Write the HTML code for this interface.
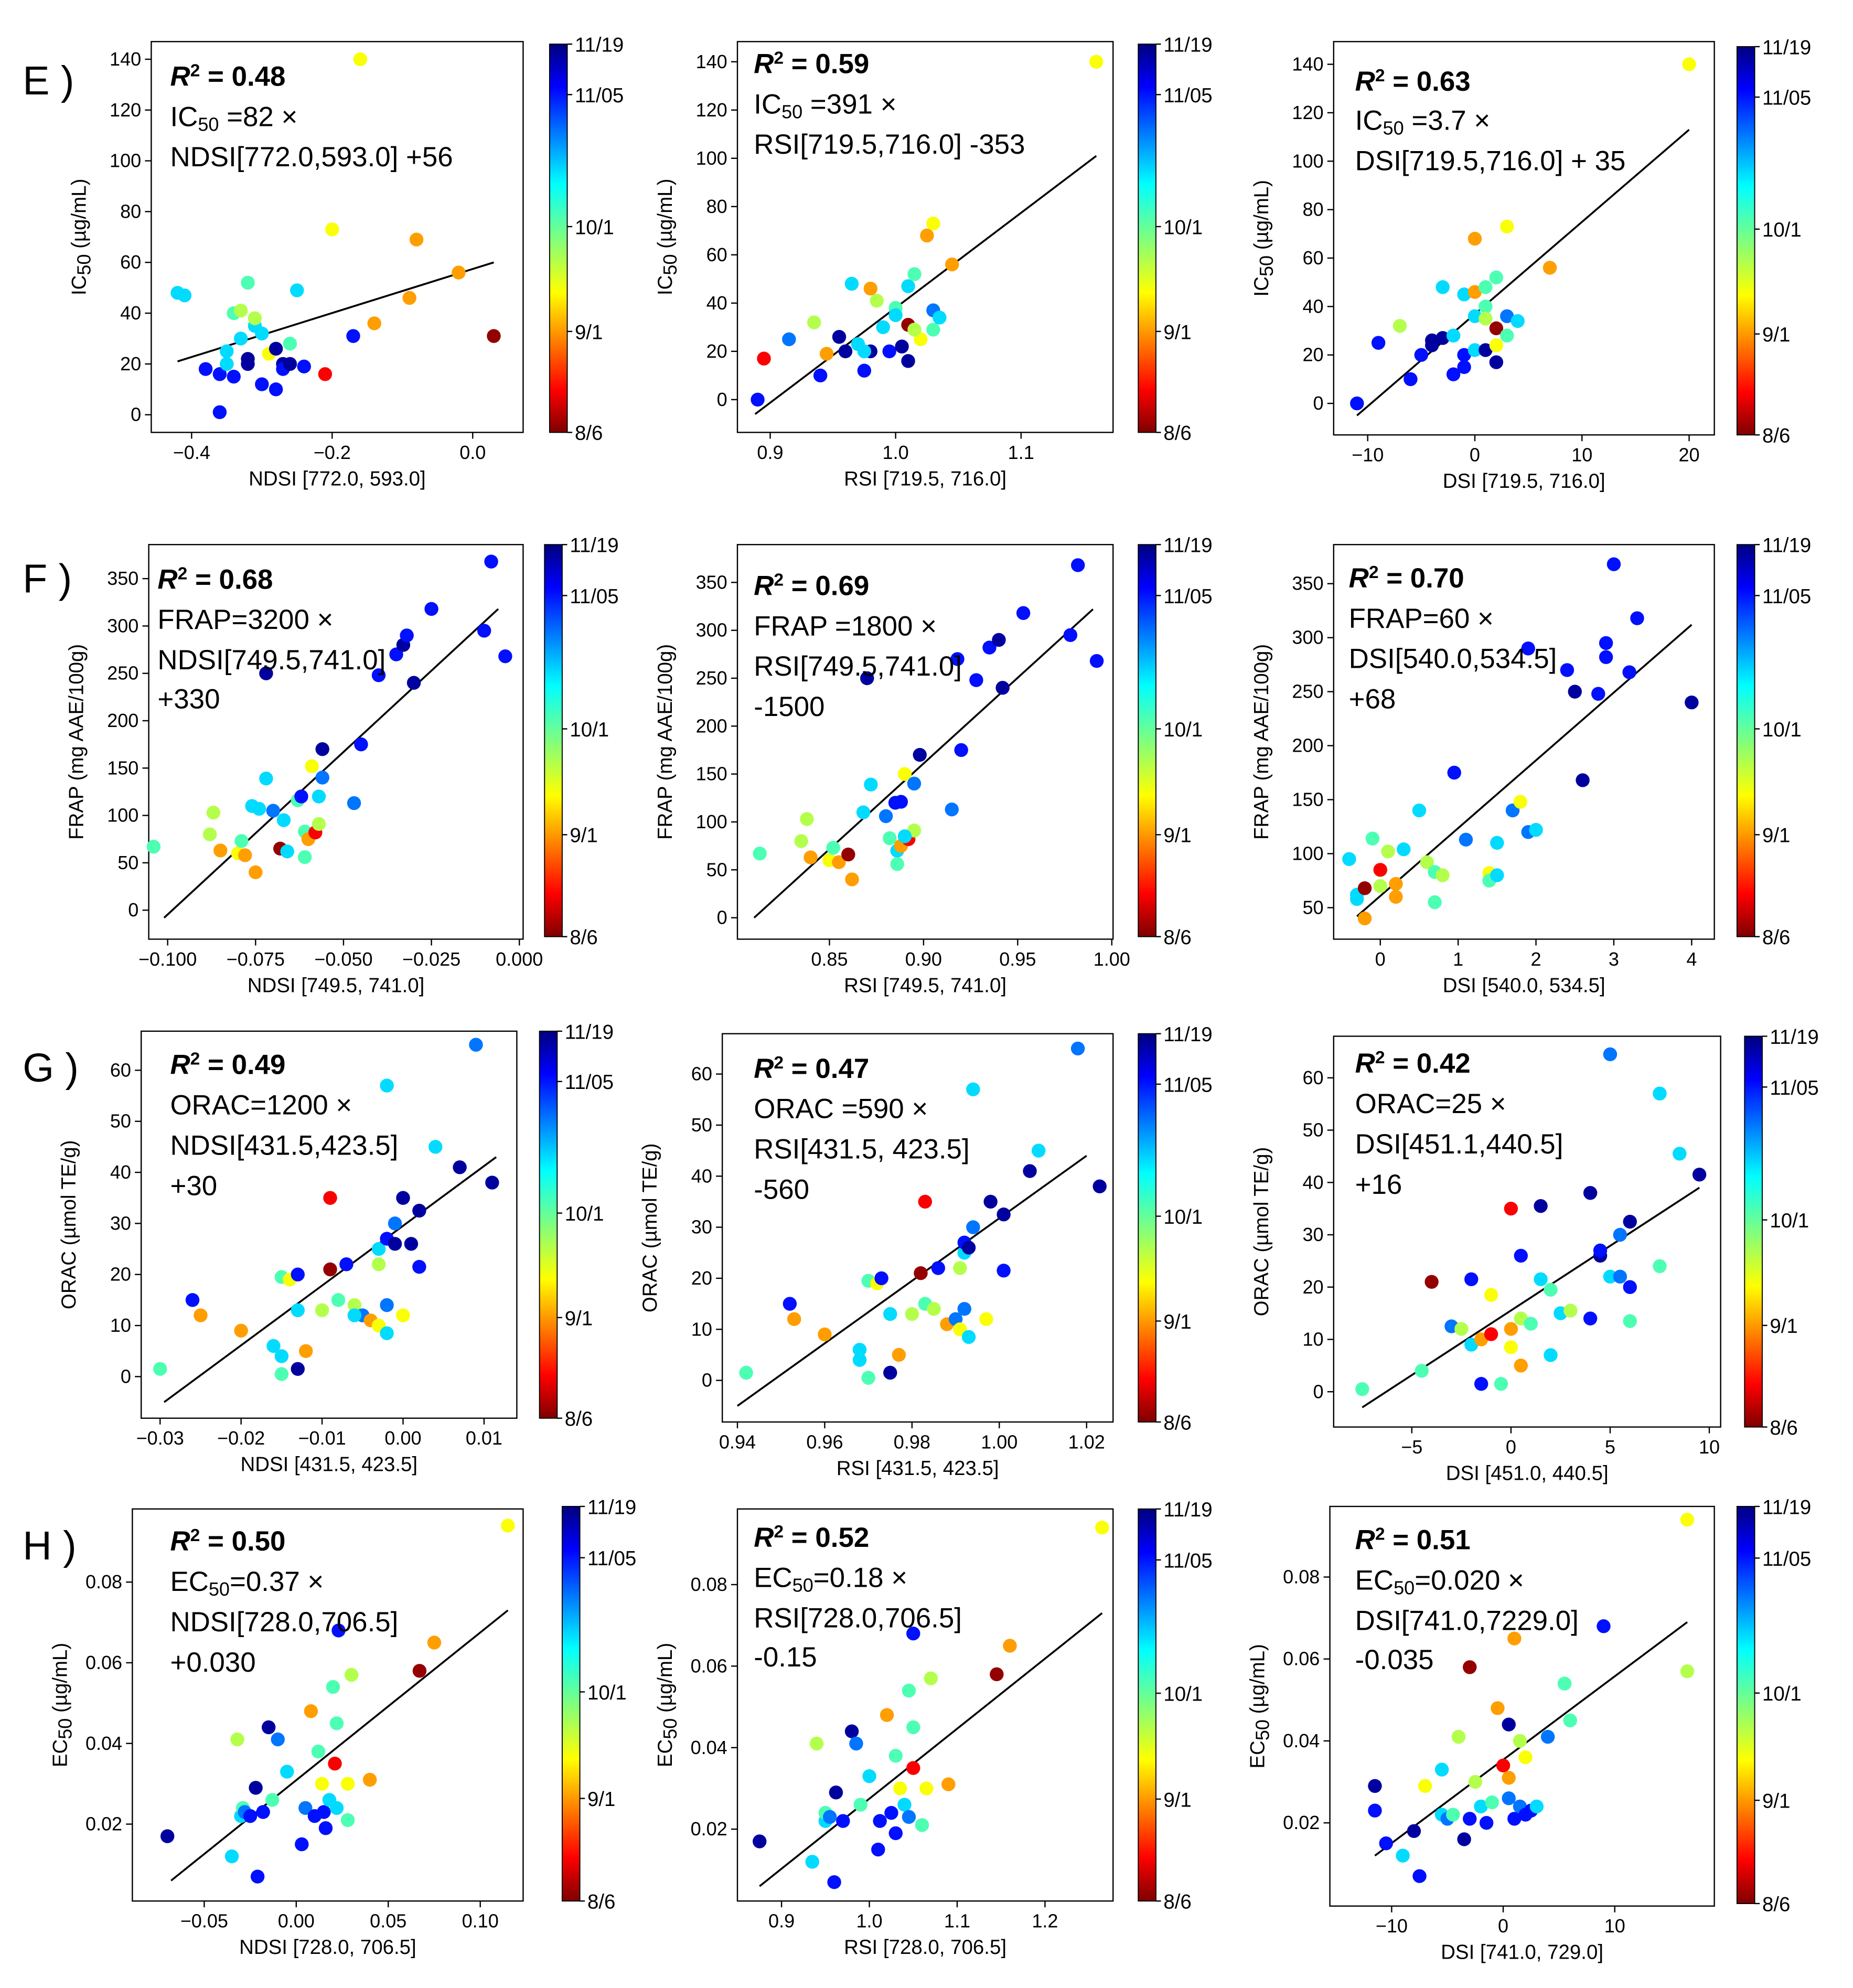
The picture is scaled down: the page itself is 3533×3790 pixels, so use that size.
<!DOCTYPE html>
<html><head><meta charset="utf-8"><style>
html,body{margin:0;padding:0;background:#fff}
svg{display:block;font-family:"Liberation Sans",sans-serif}
</style></head><body>
<svg id="fig" width="3533" height="3790" viewBox="0 0 1470 1577" preserveAspectRatio="none" xmlns="http://www.w3.org/2000/svg">
<defs><linearGradient id="jet" x1="0" y1="0" x2="0" y2="1">
<stop offset="0" stop-color="#00007f"/><stop offset="0.11" stop-color="#0000ff"/><stop offset="0.36" stop-color="#00ffff"/><stop offset="0.5" stop-color="#7fff7f"/><stop offset="0.64" stop-color="#ffff00"/><stop offset="0.89" stop-color="#ff0000"/><stop offset="1" stop-color="#7f0000"/></linearGradient></defs>
</svg>
<script>
const colorCodes={dr:0.02,r:0.12,o:0.28,y:0.38,yg:0.45,g:0.55,c:0.66,lb:0.76,b:0.86,db:0.97};
const cbarTicks=["11/19","11/05","10/1","9/1","8/6"];
const cbarFrac=[0,0.13,0.47,0.74,1];

const E1_pts=[[-0.42,48,'c'],[-0.41,47,'c'],[-0.38,18,'b'],[-0.36,16,'b'],[-0.36,1,'b'],[-0.35,20,'c'],[-0.35,25,'c'],[-0.34,40,'g'],[-0.33,41,'yg'],[-0.32,52,'g'],[-0.33,30,'c'],[-0.34,15,'b'],[-0.32,22,'db'],[-0.31,35,'c'],[-0.31,38,'yg'],[-0.30,32,'c'],[-0.30,12,'b'],[-0.29,24,'y'],[-0.28,26,'db'],[-0.27,20,'db'],[-0.27,18,'b'],[-0.28,10,'b'],[-0.26,28,'g'],[-0.25,49,'c'],[-0.24,19,'b'],[-0.20,73,'y'],[-0.21,16,'r'],[-0.17,31,'b'],[-0.16,140,'y'],[-0.14,36,'o'],[-0.08,69,'o'],[-0.09,46,'o'],[-0.02,56,'o'],[0.03,31,'dr'],[-0.26,20,'db'],[-0.32,20,'db']];
const E2_pts=[[0.89,0,'b'],[0.895,17,'r'],[0.915,25,'lb'],[0.94,10,'b'],[0.935,32,'yg'],[0.945,19,'o'],[0.955,26,'db'],[0.96,20,'db'],[0.965,48,'c'],[0.97,23,'c'],[0.975,12,'b'],[0.98,46,'o'],[0.985,41,'yg'],[0.98,20,'db'],[0.99,30,'c'],[0.995,20,'b'],[1.0,38,'g'],[1.005,22,'db'],[1.01,31,'dr'],[1.01,16,'db'],[1.01,47,'c'],[1.015,52,'g'],[1.02,25,'y'],[1.025,68,'o'],[1.03,73,'y'],[1.03,29,'g'],[1.03,37,'lb'],[1.035,34,'c'],[1.045,56,'o'],[1.16,140,'y'],[0.975,20,'c'],[1.0,35,'c'],[1.015,29,'yg']];
const E3_pts=[[-11,0,'b'],[-9,25,'b'],[-7,32,'yg'],[-6,10,'b'],[-5,20,'b'],[-4,24,'db'],[-4,26,'db'],[-3,27,'db'],[-3,48,'c'],[-2,12,'b'],[-1,20,'b'],[-1,15,'b'],[-1,45,'c'],[0,22,'c'],[0,36,'c'],[0,68,'o'],[0,46,'o'],[1,40,'g'],[1,22,'db'],[1,48,'g'],[2,52,'g'],[2,17,'db'],[2,31,'dr'],[2,24,'y'],[3,73,'y'],[3,28,'g'],[3,36,'lb'],[4,34,'c'],[7,56,'o'],[20,140,'y'],[1,35,'yg'],[-2,28,'c']];
const F1_pts=[[-0.104,67,'g'],[-0.088,80,'yg'],[-0.087,103,'yg'],[-0.085,63,'o'],[-0.080,60,'y'],[-0.079,73,'g'],[-0.078,58,'o'],[-0.075,40,'o'],[-0.076,110,'c'],[-0.074,107,'c'],[-0.072,250,'db'],[-0.072,139,'c'],[-0.07,105,'lb'],[-0.068,65,'dr'],[-0.067,95,'c'],[-0.066,62,'c'],[-0.063,116,'g'],[-0.062,120,'b'],[-0.061,83,'g'],[-0.061,56,'g'],[-0.060,75,'o'],[-0.059,152,'y'],[-0.058,82,'r'],[-0.057,91,'yg'],[-0.056,140,'lb'],[-0.056,170,'db'],[-0.047,113,'lb'],[-0.045,175,'b'],[-0.040,248,'b'],[-0.035,270,'b'],[-0.033,280,'db'],[-0.032,290,'b'],[-0.030,240,'db'],[-0.025,318,'b'],[-0.010,295,'b'],[-0.008,368,'b'],[-0.004,268,'b'],[-0.057,120,'c']];
const F2_pts=[[0.813,67,'g'],[0.835,80,'yg'],[0.838,103,'yg'],[0.840,63,'o'],[0.850,60,'y'],[0.852,73,'g'],[0.855,58,'o'],[0.862,40,'o'],[0.860,66,'dr'],[0.868,110,'c'],[0.870,250,'db'],[0.872,139,'c'],[0.880,106,'lb'],[0.882,83,'g'],[0.885,120,'b'],[0.886,70,'c'],[0.886,56,'g'],[0.888,75,'o'],[0.888,121,'b'],[0.890,150,'y'],[0.892,82,'r'],[0.895,91,'yg'],[0.898,170,'db'],[0.895,140,'lb'],[0.915,113,'lb'],[0.918,270,'b'],[0.920,175,'b'],[0.928,248,'b'],[0.935,282,'b'],[0.940,290,'db'],[0.942,240,'db'],[0.953,318,'b'],[0.978,295,'b'],[0.982,368,'b'],[0.992,268,'b'],[0.89,85,'c']];
const F3_pts=[[-0.4,95,'c'],[-0.3,62,'c'],[-0.3,58,'c'],[-0.2,68,'dr'],[-0.2,40,'o'],[-0.1,114,'g'],[0,85,'r'],[0,70,'yg'],[0.1,102,'yg'],[0.2,72,'o'],[0.2,60,'o'],[0.3,104,'c'],[0.5,140,'c'],[0.6,92,'yg'],[0.7,83,'g'],[0.7,55,'g'],[0.8,80,'yg'],[0.95,175,'b'],[1.1,113,'lb'],[1.4,82,'y'],[1.4,75,'g'],[1.5,80,'c'],[1.5,110,'c'],[1.7,140,'lb'],[1.8,148,'y'],[1.9,120,'lb'],[1.9,290,'b'],[2.0,122,'c'],[2.4,270,'b'],[2.5,250,'db'],[2.6,168,'db'],[2.8,248,'b'],[2.9,282,'b'],[2.9,295,'b'],[3.0,368,'b'],[3.2,268,'b'],[3.3,318,'b'],[4.0,240,'db']];
const G1_pts=[[-0.03,1.5,'g'],[-0.026,15,'b'],[-0.025,12,'o'],[-0.020,9,'o'],[-0.016,6,'c'],[-0.015,4,'c'],[-0.015,0.5,'g'],[-0.015,19.5,'g'],[-0.014,19,'y'],[-0.013,20,'b'],[-0.013,13,'c'],[-0.013,1.5,'db'],[-0.012,5,'o'],[-0.010,13,'yg'],[-0.009,21,'dr'],[-0.009,35,'r'],[-0.008,15,'g'],[-0.007,22,'b'],[-0.006,14,'yg'],[-0.005,12,'lb'],[-0.006,12,'c'],[-0.004,11,'o'],[-0.003,10,'y'],[-0.003,22,'yg'],[-0.003,25,'c'],[-0.002,14,'lb'],[-0.002,8.5,'c'],[-0.002,27,'b'],[-0.001,26,'db'],[-0.001,30,'lb'],[-0.002,57,'c'],[0.000,12,'y'],[0.000,35,'db'],[0.001,26,'db'],[0.002,32.5,'db'],[0.002,21.5,'b'],[0.004,45,'c'],[0.007,41,'db'],[0.009,65,'lb'],[0.011,38,'db']];
const G2_pts=[[0.942,1.5,'g'],[0.952,15,'b'],[0.953,12,'o'],[0.96,9,'o'],[0.968,6,'c'],[0.968,4,'c'],[0.970,0.5,'g'],[0.970,19.5,'g'],[0.972,19,'y'],[0.973,20,'b'],[0.975,13,'c'],[0.975,1.5,'db'],[0.977,5,'o'],[0.980,13,'yg'],[0.982,21,'dr'],[0.983,35,'r'],[0.983,15,'g'],[0.986,22,'b'],[0.985,14,'yg'],[0.988,11,'o'],[0.99,12,'lb'],[0.991,10,'y'],[0.991,22,'yg'],[0.992,25,'c'],[0.992,14,'lb'],[0.993,8.5,'c'],[0.992,27,'b'],[0.993,26,'db'],[0.994,30,'lb'],[0.994,57,'c'],[0.997,12,'y'],[0.998,35,'db'],[1.001,21.5,'b'],[1.001,32.5,'db'],[1.009,45,'c'],[1.007,41,'db'],[1.018,65,'lb'],[1.023,38,'db']];
const G3_pts=[[-7.5,0.5,'g'],[-4.5,4,'g'],[-4,21,'dr'],[-3,12.5,'lb'],[-2.5,12,'yg'],[-2,21.5,'b'],[-2,9,'c'],[-1.5,1.5,'b'],[-1.5,10,'o'],[-1,11,'r'],[-1,18.5,'y'],[-0.5,1.5,'g'],[0,12,'o'],[0,8.5,'y'],[0,35,'r'],[0.5,26,'b'],[0.5,14,'yg'],[0.5,5,'o'],[1,13,'g'],[1.5,35.5,'db'],[1.5,21.5,'c'],[2,7,'c'],[2,19.5,'g'],[2.5,15,'c'],[3,15.5,'yg'],[4,14,'b'],[4,38,'db'],[4.5,26,'db'],[4.5,27,'b'],[5,64.5,'lb'],[5,22,'c'],[5.5,30,'lb'],[5.5,22,'lb'],[6,13.5,'g'],[6,20,'b'],[6,32.5,'db'],[7.5,57,'c'],[7.5,24,'g'],[8.5,45.5,'c'],[9.5,41.5,'db']];
const H1_pts=[[-0.07,0.017,'db'],[-0.035,0.012,'c'],[-0.032,0.041,'yg'],[-0.03,0.022,'c'],[-0.029,0.024,'g'],[-0.028,0.023,'lb'],[-0.025,0.022,'b'],[-0.022,0.029,'db'],[-0.021,0.007,'b'],[-0.018,0.023,'b'],[-0.015,0.044,'db'],[-0.013,0.026,'g'],[-0.010,0.041,'lb'],[-0.005,0.033,'c'],[0.003,0.015,'b'],[0.005,0.024,'lb'],[0.008,0.048,'o'],[0.010,0.022,'b'],[0.012,0.038,'g'],[0.014,0.030,'y'],[0.015,0.023,'b'],[0.016,0.019,'b'],[0.018,0.026,'c'],[0.02,0.054,'g'],[0.021,0.035,'r'],[0.022,0.045,'g'],[0.022,0.024,'c'],[0.028,0.021,'g'],[0.028,0.030,'y'],[0.030,0.057,'yg'],[0.040,0.031,'o'],[0.023,0.068,'b'],[0.067,0.058,'dr'],[0.075,0.065,'o'],[0.115,0.094,'y']];
const H2_pts=[[0.875,0.017,'db'],[0.935,0.012,'c'],[0.94,0.041,'yg'],[0.95,0.022,'c'],[0.95,0.024,'g'],[0.955,0.023,'lb'],[0.96,0.007,'b'],[0.962,0.029,'db'],[0.97,0.022,'b'],[0.98,0.044,'db'],[0.985,0.041,'lb'],[0.99,0.026,'g'],[1.0,0.033,'c'],[1.01,0.015,'b'],[1.012,0.022,'b'],[1.02,0.048,'o'],[1.025,0.024,'b'],[1.03,0.019,'b'],[1.03,0.038,'g'],[1.035,0.030,'y'],[1.04,0.026,'c'],[1.045,0.023,'lb'],[1.045,0.054,'g'],[1.05,0.035,'r'],[1.05,0.045,'g'],[1.05,0.068,'b'],[1.06,0.021,'g'],[1.065,0.030,'y'],[1.07,0.057,'yg'],[1.09,0.031,'o'],[1.145,0.058,'dr'],[1.16,0.065,'o'],[1.265,0.094,'y']];
const H3_pts=[[-11.5,0.029,'db'],[-11.5,0.023,'b'],[-10.5,0.015,'b'],[-9,0.012,'c'],[-8,0.018,'db'],[-7.5,0.007,'b'],[-7,0.029,'y'],[-5.5,0.022,'c'],[-5.5,0.033,'c'],[-5,0.021,'lb'],[-4.5,0.022,'g'],[-4,0.041,'yg'],[-3.5,0.016,'db'],[-3,0.058,'dr'],[-3,0.021,'b'],[-2.5,0.030,'yg'],[-2,0.024,'c'],[-1.5,0.020,'b'],[-1,0.025,'g'],[-0.5,0.048,'o'],[0,0.034,'r'],[0.5,0.044,'db'],[0.5,0.031,'o'],[0.5,0.026,'lb'],[1,0.065,'o'],[1,0.021,'b'],[1.5,0.024,'lb'],[1.5,0.040,'yg'],[2,0.036,'y'],[2,0.022,'b'],[2.5,0.023,'b'],[3,0.024,'c'],[4,0.041,'lb'],[5.5,0.054,'g'],[6,0.045,'g'],[9,0.068,'b'],[16.5,0.057,'yg'],[16.5,0.094,'y']];

const E1_fit=[[-0.42,21],[0.03,60]];
const E2_fit=[[0.888,-6],[1.16,101]];
const E3_fit=[[-11,-5],[20,113]];
const F1_fit=[[-0.101,-8],[-0.006,318]];
const F2_fit=[[0.81,0],[0.99,322]];
const F3_fit=[[-0.3,42],[4.0,312]];
const G1_fit=[[-0.0295,-5],[0.0115,43]];
const G2_fit=[[0.94,-5],[1.02,44]];
const G3_fit=[[-7.5,-3],[9.5,39]];
const H1_fit=[[-0.068,0.006],[0.115,0.073]];
const H2_fit=[[0.875,0.006],[1.265,0.073]];
const H3_fit=[[-11.5,0.012],[16.5,0.069]];

const yTicksE=[0,20,40,60,80,100,120,140];
const yTicksF=[0,50,100,150,200,250,300,350];
const yTicksF3=[50,100,150,200,250,300,350];
const yTicksG=[0,10,20,30,40,50,60];
const yTicksH=[0.02,0.04,0.06,0.08];

const sub='<tspan baseline-shift="-25%" font-size="15">50</tspan>';
const r2=v=>'<tspan font-weight="bold" font-style="italic">R</tspan><tspan font-weight="bold" baseline-shift="super" font-size="14">2</tspan><tspan font-weight="bold"> = '+v+'</tspan>';

const panels=[
{id:'e1',pts:E1_pts,fit:E1_fit,box:[120,33,415,343],xa:[-0.4,152,0.0,375],ya:[0,329,140,47],xt:[-0.4,-0.2,0.0],xl:['−0.4','−0.2','0.0'],yt:yTicksE,yf:0,xlab:'NDSI [772.0, 593.0]',ylab:'IC'+sub+' (µg/mL)',cb:[436,35,343],tx:135,ty:[68,100,132],ann:[r2('0.48'),'IC'+sub+' =82 ×','NDSI[772.0,593.0] +56']},
{id:'e2',pts:E2_pts,fit:E2_fit,box:[585,33,883,343],xa:[0.9,611,1.1,810],ya:[0,317,140,49],xt:[0.9,1.0,1.1],xl:['0.9','1.0','1.1'],yt:yTicksE,yf:0,xlab:'RSI [719.5, 716.0]',ylab:'IC'+sub+' (µg/mL)',cb:[903,35,343],tx:598,ty:[58,90,122],ann:[r2('0.59'),'IC'+sub+' =391 ×','RSI[719.5,716.0] -353']},
{id:'e3',pts:E3_pts,fit:E3_fit,box:[1058,33,1360,345],xa:[-10,1085,20,1340],ya:[0,320,140,51],xt:[-10,0,10,20],xl:['−10','0','10','20'],yt:yTicksE,yf:0,xlab:'DSI [719.5, 716.0]',ylab:'IC'+sub+' (µg/mL)',cb:[1378,37,345],tx:1075,ty:[72,103,135],ann:[r2('0.63'),'IC'+sub+' =3.7 ×','DSI[719.5,716.0] + 35']},
{id:'f1',pts:F1_pts,fit:F1_fit,box:[118,432,415,745],xa:[-0.1,133,0.0,412],ya:[0,722,350,459],xt:[-0.1,-0.075,-0.05,-0.025,0],xl:['−0.100','−0.075','−0.050','−0.025','0.000'],yt:yTicksF,yf:0,xlab:'NDSI [749.5, 741.0]',ylab:'FRAP (mg AAE/100g)',cb:[432,432,743],tx:125,ty:[467,499,531,562],ann:[r2('0.68'),'FRAP=3200 ×','NDSI[749.5,741.0]','+330']},
{id:'f2',pts:F2_pts,fit:F2_fit,box:[585,432,883,745],xa:[0.85,658,1.0,882],ya:[0,728,350,462],xt:[0.85,0.9,0.95,1.0],xl:['0.85','0.90','0.95','1.00'],yt:yTicksF,yf:0,xlab:'RSI [749.5, 741.0]',ylab:'FRAP (mg AAE/100g)',cb:[903,432,743],tx:598,ty:[472,504,536,568],ann:[r2('0.69'),'FRAP =1800 ×','RSI[749.5,741.0]','-1500']},
{id:'f3',pts:F3_pts,fit:F3_fit,box:[1058,432,1360,745],xa:[0,1095,4,1342],ya:[50,720,350,463],xt:[0,1,2,3,4],xl:['0','1','2','3','4'],yt:yTicksF3,yf:0,xlab:'DSI [540.0, 534.5]',ylab:'FRAP (mg AAE/100g)',cb:[1378,432,743],tx:1070,ty:[466,498,530,562],ann:[r2('0.70'),'FRAP=60 ×','DSI[540.0,534.5]','+68']},
{id:'g1',pts:G1_pts,fit:G1_fit,box:[112,818,410,1125],xa:[-0.03,127,0.01,384],ya:[0,1092,60,849],xt:[-0.03,-0.02,-0.01,0,0.01],xl:['−0.03','−0.02','−0.01','0.00','0.01'],yt:yTicksG,yf:0,xlab:'NDSI [431.5, 423.5]',ylab:'ORAC (µmol TE/g)',cb:[428,818,1125],tx:135,ty:[852,884,916,948],ann:[r2('0.49'),'ORAC=1200 ×','NDSI[431.5,423.5]','+30']},
{id:'g2',pts:G2_pts,fit:G2_fit,box:[573,820,883,1128],xa:[0.94,585,1.02,862],ya:[0,1095,60,852],xt:[0.94,0.96,0.98,1.0,1.02],xl:['0.94','0.96','0.98','1.00','1.02'],yt:yTicksG,yf:0,xlab:'RSI [431.5, 423.5]',ylab:'ORAC (µmol TE/g)',cb:[903,820,1128],tx:598,ty:[855,887,919,951],ann:[r2('0.47'),'ORAC =590 ×','RSI[431.5, 423.5]',' -560']},
{id:'g3',pts:G3_pts,fit:G3_fit,box:[1058,822,1365,1132],xa:[-5,1120,10,1356],ya:[0,1104,60,855],xt:[-5,0,5,10],xl:['−5','0','5','10'],yt:yTicksG,yf:0,xlab:'DSI [451.0, 440.5]',ylab:'ORAC (µmol TE/g)',cb:[1384,822,1132],tx:1075,ty:[851,883,915,947],ann:[r2('0.42'),'ORAC=25 ×','DSI[451.1,440.5]','+16']},
{id:'h1',pts:H1_pts,fit:H1_fit,box:[105,1197,415,1508],xa:[-0.05,162,0.1,381],ya:[0.02,1447,0.08,1255],xt:[-0.05,0,0.05,0.1],xl:['−0.05','0.00','0.05','0.10'],yt:yTicksH,yf:2,xlab:'NDSI [728.0, 706.5]',ylab:'EC'+sub+' (µg/mL)',cb:[446,1195,1508],tx:135,ty:[1230,1262,1294,1326],ann:[r2('0.50'),'EC'+sub+'=0.37 ×','NDSI[728.0,706.5]','+0.030']},
{id:'h2',pts:H2_pts,fit:H2_fit,box:[585,1197,883,1508],xa:[0.9,620,1.2,829],ya:[0.02,1451,0.08,1257],xt:[0.9,1.0,1.1,1.2],xl:['0.9','1.0','1.1','1.2'],yt:yTicksH,yf:2,xlab:'RSI [728.0, 706.5]',ylab:'EC'+sub+' (µg/mL)',cb:[903,1197,1508],tx:598,ty:[1227,1259,1291,1322],ann:[r2('0.52'),'EC'+sub+'=0.18 ×','RSI[728.0,706.5]','-0.15']},
{id:'h3',pts:H3_pts,fit:H3_fit,box:[1055,1195,1360,1512],xa:[-10,1104,10,1281],ya:[0.02,1446,0.08,1251],xt:[-10,0,10],xl:['−10','0','10'],yt:yTicksH,yf:2,xlab:'DSI [741.0, 729.0]',ylab:'EC'+sub+' (µg/mL)',cb:[1378,1195,1510],tx:1075,ty:[1229,1261,1293,1324],ann:[r2('0.51'),'EC'+sub+'=0.020 ×','DSI[741.0,7229.0]','-0.035']}
];
const rowLabels=[['E )',75],['F )',470],['G )',858],['H )',1237]];

function jet(v){
  const cl=x=>Math.max(0,Math.min(1,x));
  const t=1-v;
  const r=cl(1.5-Math.abs(4*t-3)),g=cl(1.5-Math.abs(4*t-2)),b=cl(1.5-Math.abs(4*t-1));
  return `rgb(${Math.round(r*255)},${Math.round(g*255)},${Math.round(b*255)})`;
}
const NS='http://www.w3.org/2000/svg';
const svg=document.getElementById('fig');
function el(tag,attrs,parent){const e=document.createElementNS(NS,tag);for(const k in attrs)e.setAttribute(k,attrs[k]);(parent||svg).appendChild(e);return e;}

rowLabels.forEach(([t,y])=>{
  const e=el('text',{x:18,y:y,'font-size':32});
  
  
  e.textContent=t;
});

panels.forEach(p=>{
  const g=el('g',{});
  
  
  const sx=v=>p.xa[1]+(v-p.xa[0])*(p.xa[3]-p.xa[1])/(p.xa[2]-p.xa[0]);
  const sy=v=>p.ya[1]+(v-p.ya[0])*(p.ya[3]-p.ya[1])/(p.ya[2]-p.ya[0]);
  const [x0,y0,x1,y1]=p.box;
  const fr=el('rect',{x:x0,y:y0,width:x1-x0,height:y1-y0,fill:'none',stroke:'#000','stroke-width':1},g);
  
  
  p.xt.forEach((v,i)=>{
    const x=sx(v);
    el('line',{x1:x,x2:x,y1:y1,y2:y1+5,stroke:'#000'},g);
    const t=el('text',{x:x,y:y1+21,'font-size':15,'text-anchor':'middle'},g);
    
    
    t.textContent=p.xl[i];
  });
  p.yt.forEach(v=>{
    const y=sy(v);
    el('line',{x1:x0-5,x2:x0,y1:y,y2:y,stroke:'#000'},g);
    const t=el('text',{x:x0-8,y:y+5,'font-size':15,'text-anchor':'end'},g);
    
    
    t.textContent=v.toFixed(p.yf);
  });
  const xl=el('text',{x:(x0+x1)/2,y:y1+42,'font-size':16,'text-anchor':'middle'},g);
  
  
  xl.textContent=p.xlab;
  const yc=(y0+y1)/2, yx=x0-52;
  const yl=el('text',{x:yx,y:yc,'font-size':16,'text-anchor':'middle',transform:`rotate(-90 ${yx} ${yc})`},g);
  
  
  yl.innerHTML=p.ylab;
  // fit line
  const ln=el('line',{x1:sx(p.fit[0][0]),y1:sy(p.fit[0][1]),x2:sx(p.fit[1][0]),y2:sy(p.fit[1][1]),stroke:'#000','stroke-width':1.5},g);
  
  
  p.pts.forEach(pt=>{
    const c=el('circle',{cx:sx(pt[0]),cy:sy(pt[1]),r:5.5,fill:jet(colorCodes[pt[2]])},g);
    
    
  });
  p.ann.forEach((a,i)=>{
    const t=el('text',{x:p.tx,y:p.ty[i],'font-size':22},g);
    
    
    t.innerHTML=a;
  });
  const [cx,cy0,cy1]=p.cb;
  const cb=el('rect',{x:cx,y:cy0,width:14,height:cy1-cy0,fill:'url(#jet)',stroke:'#000','stroke-width':0.8},g);
  
  
  cbarTicks.forEach((lab,i)=>{
    const y=cy0+cbarFrac[i]*(cy1-cy0);
    el('line',{x1:cx+14,x2:cx+18,y1:y,y2:y,stroke:'#000'},g);
    const t=el('text',{x:cx+20,y:y+6,'font-size':16},g);
    
    
    t.textContent=lab;
  });
});
</script>
</body></html>
